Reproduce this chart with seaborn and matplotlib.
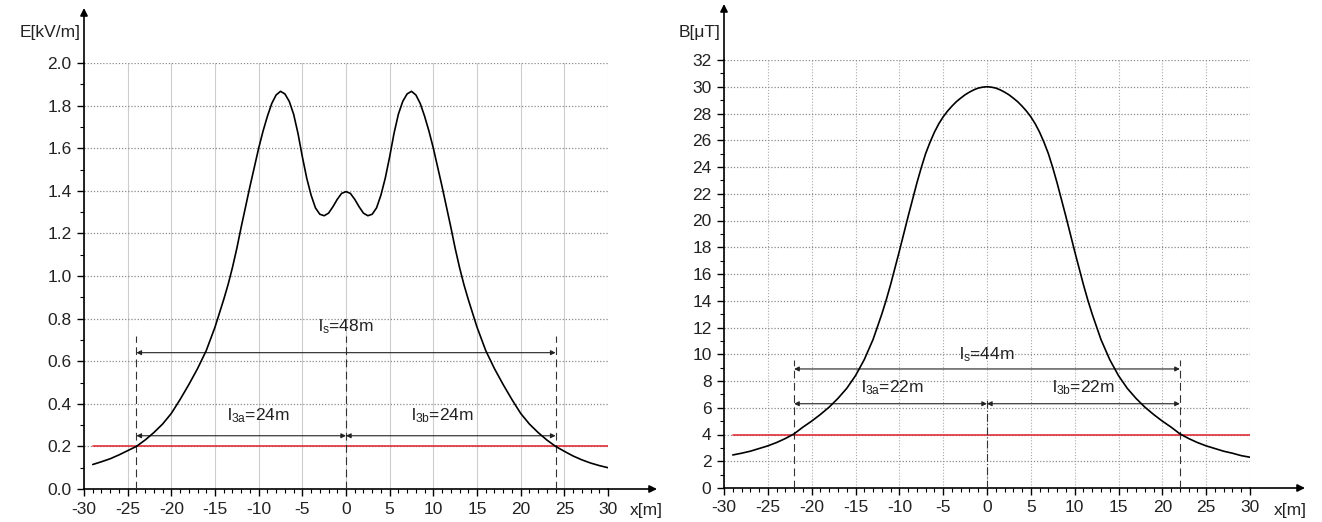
import numpy as np
import matplotlib
matplotlib.use("Agg")
import matplotlib.pyplot as plt
import seaborn as sns
from matplotlib.ticker import MultipleLocator

# ---------------- data ----------------
E_x = [-29, -28, -27, -26, -25, -24, -23, -22, -21, -20, -19, -18, -17, -16, -15,
       -14, -13.5, -13, -12.5, -12, -11.5, -11, -10.5, -10, -9.5, -9, -8.5, -8, -7.5, -7, -6.5,
       -6, -5.5, -5, -4.5, -4, -3.5, -3, -2.5, -2, -1.5, -1, -0.5, 0,
       0.5, 1, 1.5, 2, 2.5, 3, 3.5, 4, 4.5, 5, 5.5, 6,
       6.5, 7, 7.5, 8, 8.5, 9, 9.5, 10, 10.5, 11, 11.5, 12, 12.5, 13, 13.5, 14,
       15, 16, 17, 18, 19, 20, 21, 22, 23, 24, 25, 26, 27, 28, 29, 30]
E_vals = [0.115, 0.128, 0.142, 0.160, 0.180, 0.200, 0.230, 0.265, 0.305, 0.355, 0.420, 0.490, 0.565, 0.650, 0.760,
          0.890, 0.960, 1.040, 1.130, 1.230, 1.325, 1.420, 1.510, 1.600, 1.680, 1.750, 1.810, 1.850, 1.867, 1.855, 1.820,
          1.760, 1.670, 1.560, 1.460, 1.380, 1.320, 1.290, 1.283, 1.295, 1.325, 1.360, 1.388, 1.396,
          1.388, 1.360, 1.325, 1.295, 1.283, 1.290, 1.320, 1.380, 1.460, 1.560, 1.670, 1.760,
          1.820, 1.855, 1.867, 1.850, 1.810, 1.750, 1.680, 1.600, 1.510, 1.420, 1.325, 1.230, 1.130, 1.040, 0.960, 0.890,
          0.760, 0.650, 0.565, 0.490, 0.420, 0.355, 0.305, 0.265, 0.230, 0.200, 0.177, 0.155, 0.137, 0.122, 0.110, 0.100]

B_x = [-29, -28, -27, -26, -25, -24, -23, -22, -21, -20, -19, -18, -17, -16, -15, -14, -13,
       -12, -11.5, -11, -10.5, -10, -9.5, -9, -8.5, -8, -7.5, -7, -6.5, -6, -5.5, -5, -4.5, -4,
       -3.5, -3, -2.5, -2, -1.5, -1, -0.5, 0, 0.5, 1, 1.5, 2, 2.5, 3, 3.5,
       4, 4.5, 5, 5.5, 6, 6.5, 7, 7.5, 8, 8.5, 9, 9.5, 10, 10.5, 11, 11.5, 12,
       13, 14, 15, 16, 17, 18, 19, 20, 21, 22, 23, 24, 25, 26, 27, 28, 29, 30]
B_vals = [2.47, 2.60, 2.75, 2.95, 3.15, 3.40, 3.70, 4.05, 4.55, 5.00, 5.50, 6.05, 6.70, 7.45, 8.40, 9.60, 11.1,
          13.0, 14.05, 15.2, 16.45, 17.7, 19.0, 20.3, 21.55, 22.8, 23.95, 25.0, 25.85, 26.6, 27.23, 27.75, 28.18, 28.55,
          28.88, 29.15, 29.4, 29.6, 29.77, 29.9, 29.97, 30.0, 29.97, 29.9, 29.77, 29.6, 29.4, 29.15, 28.88,
          28.55, 28.18, 27.75, 27.23, 26.6, 25.85, 25.0, 23.95, 22.8, 21.55, 20.3, 19.0, 17.7, 16.45, 15.2, 14.05, 13.0,
          11.1, 9.60, 8.40, 7.45, 6.70, 6.05, 5.50, 5.00, 4.55, 4.05, 3.70, 3.40, 3.15, 2.95, 2.75, 2.60, 2.42, 2.30]

x_ticks = [-30, -25, -20, -15, -10, -5, 0, 5, 10, 15, 20, 25, 30]
E_ticks = [0.0, 0.2, 0.4, 0.6, 0.8, 1.0, 1.2, 1.4, 1.6, 1.8, 2.0]
B_ticks = [0, 2, 4, 6, 8, 10, 12, 14, 16, 18, 20, 22, 24, 26, 28, 30, 32]

E_limit = 0.2          # kV/m
B_limit = 4            # uT
E_zone = 24            # m (each side)
B_zone = 22            # m (each side)
limit_x = [-29, 30]

E_labels = ["l$_{s}$=48m", "l$_{3a}$=24m", "l$_{3b}$=24m"]
B_labels = ["l$_{s}$=44m", "l$_{3a}$=22m", "l$_{3b}$=22m"]

# ---------------- style ----------------
sns.set_style("white")
plt.rcParams["font.family"] = ["Liberation Sans", "DejaVu Sans"]
plt.rcParams["mathtext.default"] = "regular"
plt.rcParams["mathtext.fontset"] = "custom"
plt.rcParams["mathtext.rm"] = "Liberation Sans"
plt.rcParams["mathtext.it"] = "Liberation Sans"
FS = 12.5
TXT = "#222222"

W, H = 1322, 522
fig = plt.figure(figsize=(W / 100, H / 100), dpi=100)
fig.patch.set_facecolor("white")

axE = fig.add_axes([84 / W, 1 - 489 / H, 524 / W, 426 / H])
axB = fig.add_axes([724 / W, 1 - 488 / H, 526 / W, 428 / H])


def style_axes(ax, yticks, yminor, fmt, xext, yext, vgrid_ls, vgrid_col):
    ax.set_xlim(-30, 30)
    ax.set_ylim(yticks[0], yticks[-1])
    ax.set_xticks(x_ticks)
    ax.set_yticks(yticks)
    ax.xaxis.set_minor_locator(MultipleLocator(1))
    ax.yaxis.set_minor_locator(MultipleLocator(yminor))
    ax.set_yticklabels([fmt.format(v) for v in yticks])
    ax.set_xticklabels([str(v) for v in x_ticks])
    for s in ["top", "right"]:
        ax.spines[s].set_visible(False)
    for s in ["left", "bottom"]:
        ax.spines[s].set_color("black")
        ax.spines[s].set_linewidth(1.2)
    ax.tick_params(axis="both", which="major", direction="out", length=5, width=1.0,
                   color="black", labelsize=FS, labelcolor=TXT, pad=4,
                   left=True, bottom=True)
    ax.tick_params(axis="both", which="minor", direction="out", length=3, width=0.8,
                   color="black", left=True, bottom=True)
    ax.grid(False)
    ax.grid(True, axis="x", which="major", color=vgrid_col, lw=0.8, ls=vgrid_ls)
    ax.grid(True, axis="y", which="major", color="#8a8a8a", lw=0.9, ls=(0, (1, 1.5)))
    ax.set_axisbelow(True)
    ax.set_xlabel("")
    ax.set_ylabel("")
    # axis arrows
    ax.annotate("", xy=(1 + xext, 0), xytext=(1, 0), xycoords="axes fraction",
                arrowprops=dict(arrowstyle="-|>", color="black", lw=1.2,
                                mutation_scale=11, shrinkA=0, shrinkB=0))
    ax.annotate("", xy=(0, 1 + yext), xytext=(0, 1), xycoords="axes fraction",
                arrowprops=dict(arrowstyle="-|>", color="black", lw=1.2,
                                mutation_scale=11, shrinkA=0, shrinkB=0))


def dim_arrow(ax, x0, x1, y):
    ax.annotate("", xy=(x1, y), xytext=(x0, y), xycoords="data",
                arrowprops=dict(arrowstyle="<|-|>", color=TXT, lw=0.8,
                                mutation_scale=7, shrinkA=0, shrinkB=0))


# ---------------- E chart ----------------
style_axes(axE, E_ticks, 0.1, "{:.1f}", 49 / 524, 55 / 426, "-", "#cdcdcd")
sns.lineplot(x=limit_x, y=[E_limit, E_limit], ax=axE, color="#e0303a", lw=1.2, zorder=3)
sns.lineplot(x=E_x, y=E_vals, ax=axE, color="black", lw=1.2, sort=False, estimator=None, zorder=4)
for xv in [-E_zone, 0, E_zone]:
    axE.plot([xv, xv], [0, 0.72], color="#333333", lw=0.8, ls=(0, (7, 4)), zorder=3)
dim_arrow(axE, -E_zone, E_zone, 0.64)
dim_arrow(axE, -E_zone, 0, 0.25)
dim_arrow(axE, 0, E_zone, 0.25)
axE.text(0, 0.72, E_labels[0], ha="center", va="bottom", fontsize=FS, color=TXT)
axE.text(-E_zone / 2 + 2, 0.30, E_labels[1], ha="center", va="bottom", fontsize=FS, color=TXT)
axE.text(E_zone / 2 - 1, 0.30, E_labels[2], ha="center", va="bottom", fontsize=FS, color=TXT)

# ---------------- B chart ----------------
style_axes(axB, B_ticks, 1, "{:d}", 55 / 526, 56 / 428, ":", "#a8a8a8")
sns.lineplot(x=limit_x, y=[B_limit, B_limit], ax=axB, color="#e0303a", lw=1.2, zorder=3)
sns.lineplot(x=B_x, y=B_vals, ax=axB, color="black", lw=1.2, sort=False, estimator=None, zorder=4)
for xv in [-B_zone, B_zone]:
    axB.plot([xv, xv], [0, 9.6], color="#333333", lw=0.8, ls=(0, (7, 4)), zorder=3)
axB.plot([0, 0], [0, 6.6], color="#333333", lw=0.8, ls=(0, (7, 2, 1, 2)), zorder=3)
dim_arrow(axB, -B_zone, B_zone, 8.9)
dim_arrow(axB, -B_zone, 0, 6.3)
dim_arrow(axB, 0, B_zone, 6.3)
axB.text(0, 9.3, B_labels[0], ha="center", va="bottom", fontsize=FS, color=TXT)
axB.text(-B_zone / 2 + 0.2, 6.8, B_labels[1], ha="center", va="bottom", fontsize=FS, color=TXT)
axB.text(B_zone / 2, 6.8, B_labels[2], ha="center", va="bottom", fontsize=FS, color=TXT)

# ---------------- axis titles ----------------
fig.text(81 / W, 1 - 32 / H, "E[kV/m]", ha="right", va="center", fontsize=FS, color=TXT)
fig.text(720 / W, 1 - 32 / H, "B[\u03bcT]", ha="right", va="center", fontsize=FS, color=TXT)
fig.text(630 / W, 1 - 510 / H, "x[m]", ha="left", va="center", fontsize=FS, color=TXT)
fig.text(1274 / W, 1 - 510 / H, "x[m]", ha="left", va="center", fontsize=FS, color=TXT)

fig.savefig("out.png", dpi=100, facecolor="white")
